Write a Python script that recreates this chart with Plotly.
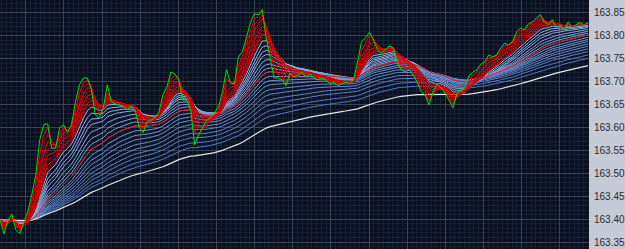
import plotly.graph_objects as go

# Price (green), one value per bar
price = [
163.398,163.368,163.398,163.411,163.376,163.368,163.394,163.416,163.453,163.496,
163.573,163.606,163.608,163.555,163.555,163.599,163.606,163.590,163.606,163.656,
163.693,163.708,163.708,163.682,163.627,163.621,163.643,163.693,163.656,163.651,
163.649,163.647,163.638,163.647,163.638,163.601,163.588,163.612,163.616,163.621,
163.634,163.671,163.688,163.721,163.717,163.704,163.660,163.660,163.638,163.562,
163.584,163.599,163.616,163.621,163.632,163.645,163.678,163.726,163.697,163.695,
163.754,163.765,163.795,163.828,163.848,163.846,163.857,163.795,163.752,163.708,
163.708,163.704,163.691,163.719,163.710,163.714,163.721,163.710,163.717,163.708,
163.704,163.708,163.704,163.695,163.699,163.691,163.695,163.699,163.695,163.704,
163.743,163.787,163.795,163.808,163.791,163.769,163.762,163.769,163.778,163.773,
163.743,163.726,163.721,163.726,163.714,163.699,163.678,163.671,163.649,163.678,
163.695,163.686,163.675,163.660,163.643,163.673,163.682,163.686,163.712,163.721,
163.726,163.738,163.743,163.758,163.754,163.758,163.773,163.784,163.780,163.787,
163.808,163.817,163.813,163.826,163.830,163.839,163.846,163.830,163.824,163.835,
163.817,163.824,163.813,163.830,163.817,163.824,163.830,163.822,163.830,
]

# Moving-average periods (bars)
short_periods = [2, 3, 4, 5, 6, 7, 8, 9]
long_periods = [10, 12, 14, 16, 19, 22, 25, 28, 32, 36, 40, 45, 50, 56, 62, 70, 78]
mid_period = 28
slow_period = 95

y_ticks = [163.35, 163.40, 163.45, 163.50, 163.55, 163.60, 163.65, 163.70, 163.75, 163.80, 163.85]


def ema(values, n):
    a = 2.0 / (n + 1)
    out = [values[0]]
    for v in values[1:]:
        out.append(out[-1] + a * (v - out[-1]))
    return out


def hexmix(c1, c2, t):
    c1 = [int(c1[i:i + 2], 16) for i in (1, 3, 5)]
    c2 = [int(c2[i:i + 2], 16) for i in (1, 3, 5)]
    c = [round(a + (b - a) * t) for a, b in zip(c1, c2)]
    return "#%02x%02x%02x" % tuple(c)


x = list(range(len(price)))
fig = go.Figure()

for k, n in enumerate(long_periods):
    t = k / (len(long_periods) - 1)
    fig.add_trace(go.Scatter(x=x, y=ema(price, n), mode="lines",
                             line=dict(color=hexmix("#98b8ee", "#4f78c4", t), width=1),
                             hoverinfo="skip"))

fig.add_trace(go.Scatter(x=x, y=ema(price, slow_period), mode="lines",
                         line=dict(color="#e6e6e6", width=1.2), hoverinfo="skip"))
fig.add_trace(go.Scatter(x=x, y=ema(price, mid_period), mode="lines",
                         line=dict(color="#e01010", width=1), hoverinfo="skip"))

for k, n in enumerate(short_periods):
    col = "#ff0000" if k % 2 == 0 else "#b80000"
    fig.add_trace(go.Scatter(x=x, y=ema(price, n), mode="lines",
                             line=dict(color=col, width=1), hoverinfo="skip"))

fig.add_trace(go.Scatter(x=x, y=price, mode="lines",
                         line=dict(color="#00dd00", width=1), hoverinfo="skip"))

fig.update_layout(
    width=625, height=249,
    margin=dict(l=0, r=32, t=0, b=0),
    paper_bgcolor="#c6cad6",
    plot_bgcolor="#0a1020",
    showlegend=False,
    xaxis=dict(range=[0, 148.25], showticklabels=False, zeroline=False,
               showgrid=True, gridcolor="#3a4456", gridwidth=1,
               tick0=6.5, dtick=9.6, ticks="",
               minor=dict(showgrid=True, gridcolor="#162034", dtick=1.2, tick0=6.5)),
    yaxis=dict(range=[163.335, 163.878], side="right", zeroline=False,
               showgrid=True, gridcolor="#3a4456", gridwidth=1,
               tickvals=y_ticks, ticktext=["%.2f" % v for v in y_ticks],
               tickfont=dict(family="Liberation Sans, Arial", size=10, color="#2a2a2a"),
               ticks="", ticklabelstandoff=4,
               minor=dict(showgrid=True, gridcolor="#162034", dtick=0.01)),
)

fig.write_html("out.html")
